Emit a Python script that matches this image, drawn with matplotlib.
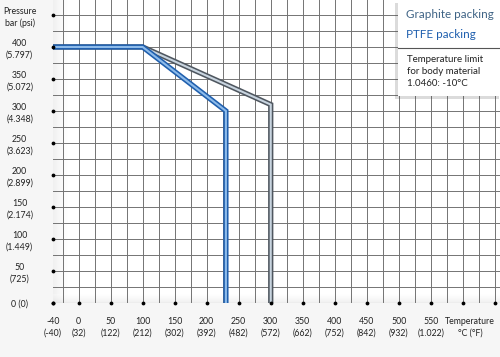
import numpy as np
import matplotlib
matplotlib.use("Agg")
import matplotlib.pyplot as plt
from matplotlib.patches import Rectangle
from matplotlib.transforms import ScaledTranslation
import matplotlib.patheffects as pe

# ---- data ----
graphite_temp = [-40, 100, 300, 300]
graphite_press = [400, 400, 310, 0]
ptfe_temp = [-40, 100, 230, 230]
ptfe_press = [400, 400, 300, 0]

x_ticks = [-40, 0, 50, 100, 150, 200, 250, 300, 350, 400, 450, 500, 550, 600, 650]
x_labels = ["-40\n(-40)", "0\n(32)", "50\n(122)", "100\n(212)", "150\n(302)",
            "200\n(392)", "250\n(482)", "300\n(572)", "350\n(662)", "400\n(752)",
            "450\n(842)", "500\n(932)", "550\n(1.022)", "Temperature\n°C (°F)", ""]
y_ticks = [0, 50, 100, 150, 200, 250, 300, 350, 400, 450]
y_labels = ["0 (0)", "50\n(725)", "100\n(1.449)", "150\n(2.174)", "200\n(2.899)",
            "250\n(3.623)", "300\n(4.348)", "350\n(5.072)", "400\n(5.797)",
            "Pressure\nbar (psi)"]
legend_names = ["Graphite packing", "PTFE packing"]
note_lines = ["Temperature limit", "for body material", "1.0460: -10°C"]

plt.rcParams['font.family'] = ['Lato', 'DejaVu Sans']

fig = plt.figure(figsize=(5.0, 3.57), dpi=100)
fig.patch.set_facecolor('#f6f6f6')
ax = fig.add_axes([53/500, 54/357, 447/500, 303/357])
ax.set_facecolor('white')
xmin, xmax = -40, 658
ymin, ymax = 0, 473.4
ax.set_xlim(xmin, xmax)
ax.set_ylim(ymin, ymax)

# shading along left and bottom edges
grad = np.linspace(0, 1, 64)
ax.imshow(np.tile(grad, (2, 1)), extent=[xmin, xmin + 22, ymin, ymax], cmap='Greys_r',
          vmin=-2.2, vmax=1, aspect='auto', zorder=0.5, alpha=0.3)
ax.imshow(np.tile(grad, (2, 1)).T[::-1], extent=[xmin, xmax, ymin, ymin + 14], cmap='Greys_r',
          vmin=-2.2, vmax=1, aspect='auto', zorder=0.5, alpha=0.3)

for xv in np.arange(-25, 660, 25):
    ax.axvline(xv, color='#737373', lw=0.7, zorder=1)
for yv in np.arange(25, 475, 25):
    ax.axhline(yv, color='#737373', lw=0.7, zorder=1)
ax.axhline(0, color='#bbbbbb', lw=0.8, zorder=1)

for s in ax.spines.values():
    s.set_visible(False)

# lines
ax.plot(graphite_temp, graphite_press, color='#4f5760', lw=3.8, solid_joinstyle='miter', zorder=3)
ax.plot(graphite_temp, graphite_press, color='#c8d4df', lw=1.5, solid_joinstyle='miter', zorder=3.1)
ax.plot(ptfe_temp, ptfe_press, color='#1f5fae', lw=3.8, solid_joinstyle='miter', zorder=3.2)
ax.plot(ptfe_temp, ptfe_press, color='#8dbbea', lw=1.5, solid_joinstyle='miter', zorder=3.3)

# ticks
ax.set_xticks(x_ticks)
ax.set_xticklabels(x_labels, fontsize=6.3, color='#222222', linespacing=1.35)
ax.set_yticks(y_ticks)
ax.set_yticklabels(y_labels, fontsize=6.3, color='#222222', linespacing=1.35, ha='center')
ax.tick_params(axis='x', length=0, pad=10)
ax.tick_params(axis='y', length=0, pad=24)
xtl = ax.get_xticklabels()
xtl[13].set_transform(xtl[13].get_transform() + ScaledTranslation(7/100, 0, fig.dpi_scale_trans))
ax.scatter(x_ticks, [0] * len(x_ticks), s=3, color='black', clip_on=False, zorder=5)
ax.scatter([xmin] * len(y_ticks), y_ticks, s=3, color='black', clip_on=False, zorder=5)

# legend box
box = Rectangle((398/500, 1 - 96/357), 104/500, 96/357, transform=fig.transFigure,
                facecolor='white', edgecolor='none', zorder=10,
                path_effects=[pe.SimplePatchShadow(offset=(-2, -2), alpha=0.2), pe.Normal()])
fig.add_artist(box)
fig.add_artist(plt.Line2D([398/500, 1], [1 - 48/357] * 2, transform=fig.transFigure,
                          color='#555555', lw=0.8, zorder=11))
fig.text(406/500, 1 - 15/357, legend_names[0], fontsize=8.4, color='#3e6385', va='center', zorder=12)
fig.text(406/500, 1 - 34/357, legend_names[1], fontsize=8.4, color='#1f5fae', va='center', zorder=12)
for i, t in enumerate(note_lines):
    fig.text(407/500, 1 - (59 + 12 * i)/357, t, fontsize=7.0, color='#222222', va='center', zorder=12)

fig.savefig('out.png', dpi=100, facecolor=fig.get_facecolor())
